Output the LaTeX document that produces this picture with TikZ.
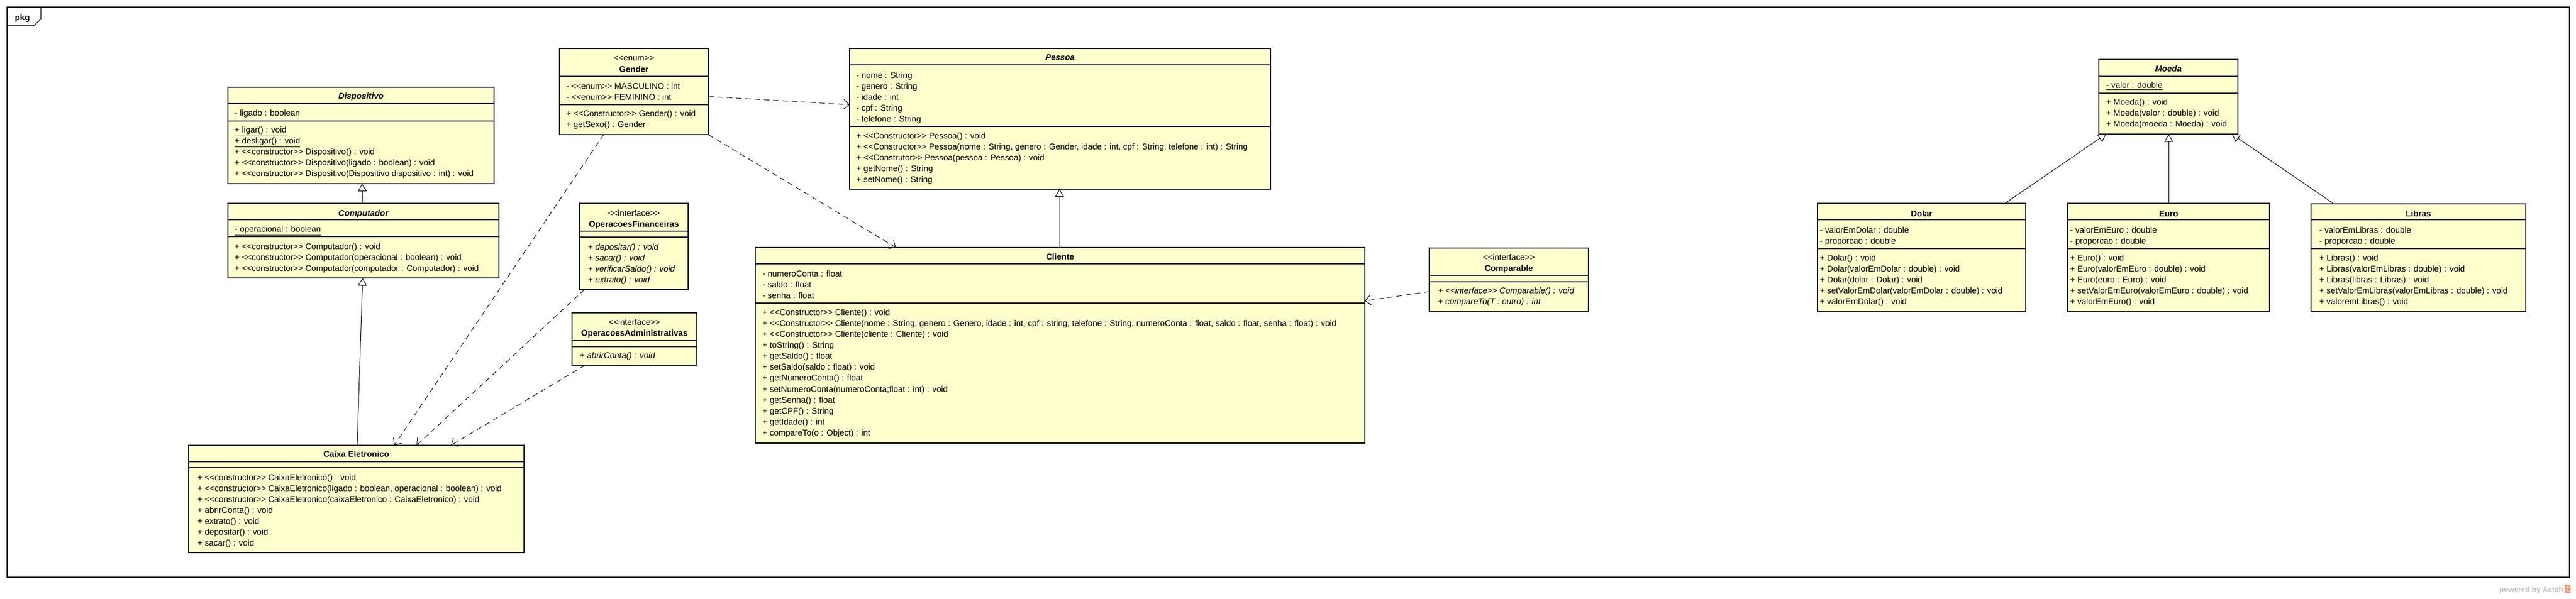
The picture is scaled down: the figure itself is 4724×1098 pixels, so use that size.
\documentclass[tikz,border=0pt]{standalone}
\usepackage{fontspec}
\setmainfont{Liberation Sans}
\usetikzlibrary{arrows.meta,calc,fit}
\definecolor{umlfill}{RGB}{255,255,206}
\definecolor{astahgray}{RGB}{190,190,190}
\definecolor{astahorange}{RGB}{238,150,110}
\newcommand\StO{<\kern0pt<}
\newcommand\StC{>\kern0pt>}
\newcommand\umlfont{\fontsize{7.7}{10}\selectfont}
\newcommand\rowsat[4]{\foreach \rowtxt [count=\i from 0] in {#4} {\node[txt] (#1-\i) at (#2,#3+\i*20.15) {\rowtxt};}}
\tikzset{
  cls/.style={draw, line width=1.3pt, fill=umlfill, inner sep=0pt, outer sep=0pt},
  txt/.style={anchor=base west, inner sep=0pt, font=\umlfont},
  ttl/.style={anchor=base, inner sep=0pt, font=\umlfont\bfseries},
  ttli/.style={anchor=base, inner sep=0pt, font=\umlfont\bfseries\itshape},
  stereo/.style={anchor=base, inner sep=0pt, font=\umlfont},
  div/.style={line width=0.6pt},
  gen/.style={line width=0.5pt, -{Triangle[open,length=7pt,width=8pt]}},
  dep/.style={line width=0.5pt, dash pattern=on 5pt off 3.5pt, -{Straight Barb[length=5pt,width=9pt]}},
}
\begin{document}
\begin{tikzpicture}[x=0.5pt,y=-0.5pt]
\useasboundingbox (0,0) rectangle (4724,1098);
\fill[white] (0,0) rectangle (4724,1098);
% frame
\node[draw, line width=0.6pt, inner sep=0pt, outer sep=0pt, fit={(13,13) (4712,1059)}] (frame) {};
\draw[line width=0.6pt] (75,13) -- (75,35) -- (62,47) -- (13,47);
\node[ttl] (pkg) at (41,37) {pkg};
\node[anchor=base east, inner sep=0pt, font=\fontsize{6.8}{8}\selectfont\bfseries, text=astahgray] (powered) at (4701,1086) {powered by Astah};
\fill[astahorange] (4703,1073) rectangle (4714,1088);
\draw[white, line width=0.4pt] (4705,1077) -- (4712,1077) (4708,1075) -- (4708,1087) (4705,1082) -- (4712,1086);

% Dispositivo
\node[cls, fit={(418,160) (906,337)}] (disp) {};
\draw[div] (418,190) -- (906,190);
\draw[div] (418,222) -- (906,222);
\node[ttli] (disp-t) at (disp.north |- 0,181) {Dispositivo};
\rowsat{disp-a}{430}{212}{{\underline{- ligado : boolean}}}
\rowsat{disp-m}{430}{243}{{\underline{+ ligar() : void}},{\underline{+ desligar() : void}},{+ \StO constructor\StC{} Dispositivo() : void},{+ \StO constructor\StC{} Dispositivo(ligado : boolean) : void},{+ \StO constructor\StC{} Dispositivo(Dispositivo dispositivo : int) : void}}

% Computador
\node[cls, fit={(418,373) (915,510)}] (comp) {};
\draw[div] (418,403) -- (915,403);
\draw[div] (418,434) -- (915,434);
\node[ttli] (comp-t) at (comp.north |- 0,396) {Computador};
\rowsat{comp-a}{430}{425}{{\underline{- operacional : boolean}}}
\rowsat{comp-m}{430}{457}{{+ \StO constructor\StC{} Computador() : void},{+ \StO constructor\StC{} Computador(operacional : boolean) : void},{+ \StO constructor\StC{} Computador(computador : Computador) : void}}

% Gender
\node[cls, fit={(1026,89) (1299,247)}] (gender) {};
\draw[div] (1026,140) -- (1299,140);
\draw[div] (1026,192) -- (1299,192);
\node[stereo] (gender-s) at (gender.north |- 0,111) {\StO enum\StC};
\node[ttl] (gender-t) at (gender.north |- 0,132) {Gender};
\rowsat{gender-a}{1038}{163}{{- \StO enum\StC{} MASCULINO : int},{- \StO enum\StC{} FEMININO : int}}
\rowsat{gender-m}{1038}{213}{{+ \StO Constructor\StC{} Gender() : void},{+ getSexo() : Gender}}

% OperacoesFinanceiras
\node[cls, fit={(1063,373) (1262,531)}] (opfin) {};
\draw[div] (1063,424) -- (1262,424);
\draw[div] (1063,435) -- (1262,435);
\node[stereo] (opfin-s) at (opfin.north |- 0,396) {\StO interface\StC};
\node[ttl] (opfin-t) at (opfin.north |- 0,416) {OperacoesFinanceiras};
\rowsat{opfin-m}{1078}{458}{{+ \itshape depositar() : void},{+ \itshape sacar() : void},{+ \itshape verificarSaldo() : void},{+ \itshape extrato() : void}}

% OperacoesAdministrativas
\node[cls, fit={(1049,574) (1278,670)}] (opadm) {};
\draw[div] (1049,625) -- (1278,625);
\draw[div] (1049,636) -- (1278,636);
\node[stereo] (opadm-s) at (opadm.north |- 0,596) {\StO interface\StC};
\node[ttl] (opadm-t) at (opadm.north |- 0,616) {OperacoesAdministrativas};
\rowsat{opadm-m}{1063}{657}{{+ \itshape abrirConta() : void}}

% Pessoa
\node[cls, fit={(1558,89) (2330,347)}] (pessoa) {};
\draw[div] (1558,119) -- (2330,119);
\draw[div] (1558,232) -- (2330,232);
\node[ttli] (pessoa-t) at (pessoa.north |- 0,110) {Pessoa};
\rowsat{pessoa-a}{1570}{143}{{- nome : String},{- genero : String},{- idade : int},{- cpf : String},{- telefone : String}}
\rowsat{pessoa-m}{1570}{254}{{+ \StO Constructor\StC{} Pessoa() : void},{+ \StO Constructor\StC{} Pessoa(nome : String, genero : Gender, idade : int, cpf : String, telefone : int) : String},{+ \StO Construtor\StC{} Pessoa(pessoa : Pessoa) : void},{+ getNome() : String},{+ setNome() : String}}

% Cliente
\node[cls, fit={(1385,454) (2503,813)}] (cliente) {};
\draw[div] (1385,484) -- (2503,484);
\draw[div] (1385,556) -- (2503,556);
\node[ttl] (cliente-t) at (cliente.north |- 0,476) {Cliente};
\rowsat{cliente-a}{1398}{507}{{- numeroConta : float},{- saldo : float},{- senha : float}}
\rowsat{cliente-m}{1398}{578}{{+ \StO Constructor\StC{} Cliente() : void},{+ \StO Constructor\StC{} Cliente(nome : String, genero : Genero, idade : int, cpf : string, telefone : String, numeroConta : float, saldo : float, senha : float) : void},{+ \StO Constructor\StC{} Cliente(cliente : Cliente) : void},{+ toString() : String},{+ getSaldo() : float},{+ setSaldo(saldo : float) : void},{+ getNumeroConta() : float},{+ setNumeroConta(numeroConta;float : int) : void},{+ getSenha() : float},{+ getCPF() : String},{+ getIdade() : int},{+ compareTo(o : Object) : int}}

% Comparable
\node[cls, fit={(2621,455) (2913,572)}] (comparable) {};
\draw[div] (2621,505) -- (2913,505);
\draw[div] (2621,517) -- (2913,517);
\node[stereo] (comparable-s) at (comparable.north |- 0,477) {\StO interface\StC};
\node[ttl] (comparable-t) at (comparable.north |- 0,497) {Comparable};
\rowsat{comparable-m}{2637}{538}{{+ \itshape \StO interface\StC{} Comparable() : void},{+ \itshape compareTo(T : outro) : int}}

% Caixa Eletronico
\node[cls, fit={(346,817) (961,1014)}] (caixa) {};
\draw[div] (346,847) -- (961,847);
\draw[div] (346,858) -- (961,858);
\node[ttl] (caixa-t) at (caixa.north |- 0,838) {Caixa Eletronico};
\rowsat{caixa-m}{362}{881}{{+ \StO constructor\StC{} CaixaEletronico() : void},{+ \StO constructor\StC{} CaixaEletronico(ligado : boolean, operacional : boolean) : void},{+ \StO constructor\StC{} CaixaEletronico(caixaEletronico : CaixaEletronico) : void},{+ abrirConta() : void},{+ extrato() : void},{+ depositar() : void},{+ sacar() : void}}

% Moeda
\node[cls, fit={(3849,109) (4104,246)}] (moeda) {};
\draw[div] (3849,140) -- (4104,140);
\draw[div] (3849,171) -- (4104,171);
\node[ttli] (moeda-t) at (moeda.north |- 0,131) {Moeda};
\rowsat{moeda-a}{3862}{161}{{\underline{- valor : double}}}
\rowsat{moeda-m}{3862}{192}{{+ Moeda() : void},{+ Moeda(valor : double) : void},{+ Moeda(moeda : Moeda) : void}}

% Dolar
\node[cls, fit={(3333,373) (3715,572)}] (dolar) {};
\draw[div] (3333,403) -- (3715,403);
\draw[div] (3333,456) -- (3715,456);
\node[ttl] (dolar-t) at (dolar.north |- 0,397) {Dolar};
\rowsat{dolar-a}{3337}{427}{{- valorEmDolar : double},{- proporcao : double}}
\rowsat{dolar-m}{3337}{478}{{+ Dolar() : void},{+ Dolar(valorEmDolar : double) : void},{+ Dolar(dolar : Dolar) : void},{+ setValorEmDolar(valorEmDolar : double) : void},{+ valorEmDolar() : void}}

% Euro
\node[cls, fit={(3792,373) (4162,572)}] (euro) {};
\draw[div] (3792,403) -- (4162,403);
\draw[div] (3792,456) -- (4162,456);
\node[ttl] (euro-t) at (euro.north |- 0,397) {Euro};
\rowsat{euro-a}{3796}{427}{{- valorEmEuro : double},{- proporcao : double}}
\rowsat{euro-m}{3796}{478}{{+ Euro() : void},{+ Euro(valorEmEuro : double) : void},{+ Euro(euro : Euro) : void},{+ setValorEmEuro(valorEmEuro : double) : void},{+ valorEmEuro() : void}}

% Libras
\node[cls, fit={(4238,374) (4632,572)}] (libras) {};
\draw[div] (4238,403) -- (4632,403);
\draw[div] (4238,456) -- (4632,456);
\node[ttl] (libras-t) at (libras.north |- 0,397) {Libras};
\rowsat{libras-a}{4253}{427}{{- valorEmLibras : double},{- proporcao : double}}
\rowsat{libras-m}{4253}{478}{{+ Libras() : void},{+ Libras(valorEmLibras : double) : void},{+ Libras(libras : Libras) : void},{+ setValorEmLibras(valorEmLibras : double) : void},{+ valoremLibras() : void}}

% connectors
\draw[gen] ($(comp.north west)+(247,0)$) -- ($(disp.south west)+(246,0)$);
\draw[gen] ($(caixa.north west)+(309,0)$) -- ($(comp.south west)+(247,0)$);
\draw[dep] ($(gender.south west)+(81,0)$) -- ($(caixa.north west)+(377,0)$);
\draw[dep] ($(opfin.south west)+(9,0)$) -- ($(caixa.north west)+(418,0)$);
\draw[dep] ($(opadm.south west)+(24,0)$) -- ($(caixa.north west)+(481,0)$);
\draw[dep] ($(gender.north east)+(0,88)$) -- ($(pessoa.north west)+(0,103)$);
\draw[dep] (gender.south east) -- ($(cliente.north west)+(258,0)$);
\draw[gen] ($(cliente.north west)+(558,0)$) -- ($(pessoa.south west)+(385,0)$);
\draw[dep] ($(comparable.north west)+(0,80)$) -- ($(cliente.north east)+(0,98)$);
\draw[gen] ($(dolar.north west)+(344,0)$) -- ($(moeda.south west)+(13,0)$);
\draw[gen] ($(euro.north west)+(185,0)$) -- ($(moeda.south west)+(128,0)$);
\draw[gen] ($(libras.north west)+(42,0)$) -- ($(moeda.south west)+(244,0)$);
\end{tikzpicture}
\end{document}
